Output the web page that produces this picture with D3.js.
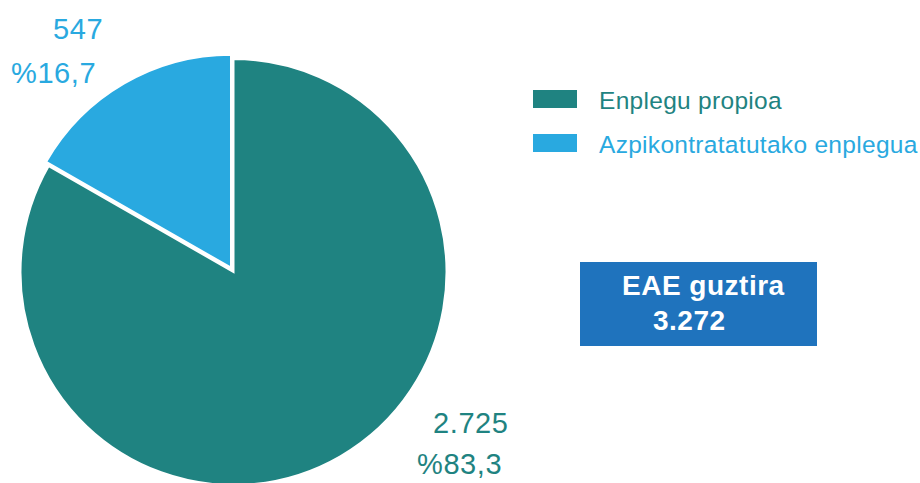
<!DOCTYPE html>
<html>
<head>
<meta charset="utf-8">
<script src="https://cdn.jsdelivr.net/npm/d3@7"></script>
<style>
  html, body { margin: 0; padding: 0; background: #fff; }
  svg { display: block; font-family: "Liberation Sans", Arial, sans-serif; }
</style>
</head>
<body>
<svg width="920" height="483"></svg>
<script>
(function (d3) {
    'use strict';

    const categories = ['Enplegu propioa', 'Azpikontratatutako enplegua'];
    const values = [2725, 547];
    const shares = ['%83,3', '%16,7'];
    const colors = ['#1f8381', '#29a9e0'];
    const totalLabel = 'EAE guztira';

    const svg = d3.select('svg');
    const cx = 233.5, cy = 272, radius = 213;
    const explode = [0, 5];

    const fmt = d3.formatLocale({decimal: ',', thousands: '.', grouping: [3], currency: ['', '']}).format(',d');

    const pie = d3.pie().sort(null).value(d => d);
    const arcs = pie(values);
    const arc = d3.arc().innerRadius(0).outerRadius(radius);

    const g = svg.append('g').attr('transform', `translate(${cx},${cy})`);

    g.selectAll('path').data(arcs)
        .enter().append('path')
        .attr('d', arc)
        .attr('fill', (d, i) => colors[i])
        .attr('stroke', '#fff')
        .attr('stroke-width', 2)
        .attr('stroke-linejoin', 'miter')
        .attr('transform', (d, i) => {
            const a = (d.startAngle + d.endAngle) / 2;
            return `translate(${Math.sin(a) * explode[i]},${-Math.cos(a) * explode[i]})`;
        });

    // value labels
    const labelPos = [
        {x: 433, y: 433, px: 417, py: 474},
        {x: 53, y: 39, px: 11, py: 83}
    ];
    const labels = svg.append('g').attr('font-size', 29).attr('letter-spacing', 0.6);
    values.forEach((v, i) => {
        labels.append('text')
            .attr('x', labelPos[i].x).attr('y', labelPos[i].y)
            .attr('fill', colors[i])
            .text(fmt(v));
        labels.append('text')
            .attr('x', labelPos[i].px).attr('y', labelPos[i].py)
            .attr('fill', colors[i])
            .text(shares[i]);
    });

    // legend
    const legend = svg.append('g').attr('transform', 'translate(533,90)');
    const item = legend.selectAll('g').data(categories)
        .enter().append('g')
        .attr('transform', (d, i) => `translate(0,${i * 44})`);
    item.append('rect')
        .attr('width', 44).attr('height', 18)
        .attr('fill', (d, i) => colors[i]);
    item.append('text')
        .attr('x', 66).attr('y', 19)
        .attr('font-size', 24.5)
        .attr('letter-spacing', 0.3)
        .attr('fill', (d, i) => colors[i])
        .text(d => d);

    // total box
    const total = d3.sum(values);
    const box = svg.append('g').attr('transform', 'translate(580,262)');
    box.append('rect').attr('width', 237).attr('height', 84).attr('fill', '#1f73bd');
    box.append('text')
        .attr('x', 42).attr('y', 33)
        .attr('font-size', 28).attr('font-weight', 'bold').attr('fill', '#fff')
        .attr('letter-spacing', 0.5)
        .text(totalLabel);
    box.append('text')
        .attr('x', 73).attr('y', 68)
        .attr('font-size', 28).attr('font-weight', 'bold').attr('fill', '#fff')
        .attr('letter-spacing', 0.5)
        .text(fmt(total));
}(d3));
</script>
</body>
</html>
